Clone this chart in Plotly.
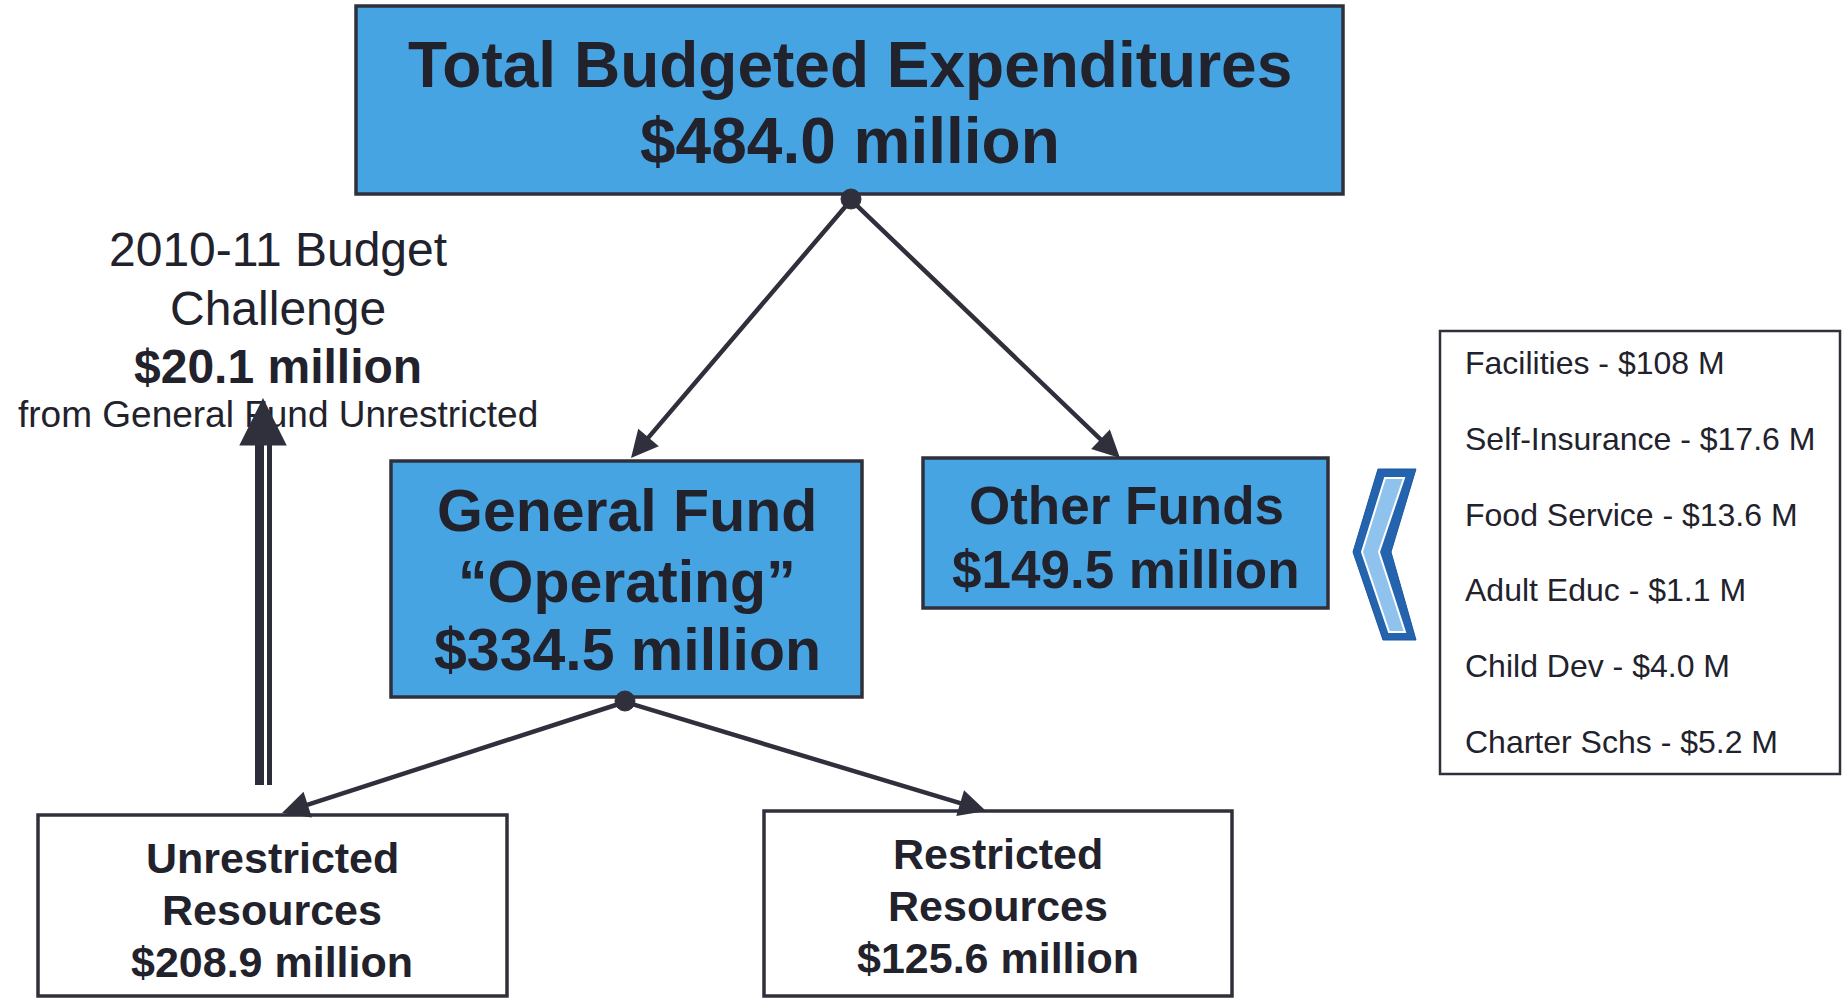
"""
Budget overview diagram: total expenditures split into funds and resources.
Drawn with Plotly shapes + annotations on a pixel-sized canvas.
"""

import plotly.graph_objects as go

# ── Data ───────────────────────────────────────────────────────
TOTAL_LABEL = "Total Budgeted Expenditures"
TOTAL_AMOUNT = 484.0

FUND_LABELS = [["General Fund", "\u201cOperating\u201d"], ["Other Funds"]]
FUND_AMOUNTS = [334.5, 149.5]

RESOURCE_LABELS = [["Unrestricted", "Resources"], ["Restricted", "Resources"]]
RESOURCE_AMOUNTS = [208.9, 125.6]

OTHER_ITEMS = ["Facilities", "Self-Insurance", "Food Service",
               "Adult Educ", "Child Dev", "Charter Schs"]
OTHER_AMOUNTS = ["108", "17.6", "13.6", "1.1", "4.0", "5.2"]

CHALLENGE_LINES = ["2010-11 Budget", "Challenge"]
CHALLENGE_AMOUNT = 20.1
CHALLENGE_SOURCE = "from General Fund Unrestricted"

# ── Theme ──────────────────────────────────────────────────────
W, H = 1843, 998
_FONT = "Liberation Sans, Arial, sans-serif"
_TEXT = "#22222c"
_LINE = "#30303c"
_BLUE = "#47a4e3"

shapes = []
annotations = []


def box(x0, y0, x1, y1, fill, width=3.5):
    shapes.append(dict(type="rect", x0=x0, y0=y0, x1=x1, y1=y1,
                       fillcolor=fill, line=dict(color=_LINE, width=width),
                       layer="below"))


def text(x, y, s, size, bold=True, anchor="center"):
    annotations.append(dict(x=x, y=y, text=f"<b>{s}</b>" if bold else s,
                            showarrow=False, xanchor=anchor, yanchor="middle",
                            font=dict(family=_FONT, size=size, color=_TEXT)))


def arrow(x0, y0, x1, y1, width=4.5, head=2, size=1.2):
    annotations.append(dict(x=x1, y=y1, ax=x0, ay=y0, xref="x", yref="y",
                            axref="x", ayref="y", text="", showarrow=True,
                            arrowhead=head, arrowsize=size, arrowwidth=width,
                            arrowcolor=_LINE, standoff=0))


def dot(x, y, r=10):
    shapes.append(dict(type="circle", x0=x - r, y0=y - r, x1=x + r, y1=y + r,
                       fillcolor=_LINE, line=dict(color=_LINE, width=1)))


# ── Top box ────────────────────────────────────────────────────
box(356, 6, 1343, 194, _BLUE)
text(850, 65, TOTAL_LABEL, 64)
text(850, 141, f"${TOTAL_AMOUNT:.1f} million", 64)

# ── Fund boxes ─────────────────────────────────────────────────
box(391, 461, 862, 697, _BLUE)
text(627, 511, FUND_LABELS[0][0], 59)
text(627, 582, FUND_LABELS[0][1], 59)
text(627, 650, f"${FUND_AMOUNTS[0]:.1f} million", 59)

box(923, 458, 1328, 608, _BLUE)
text(1126, 505, FUND_LABELS[1][0], 53)
text(1126, 569, f"${FUND_AMOUNTS[1]:.1f} million", 53)

# ── Resource boxes ─────────────────────────────────────────────
box(38, 815, 507, 996, "white")
for i, y in enumerate([858, 910]):
    text(272, y, RESOURCE_LABELS[0][i], 43)
text(272, 962, f"${RESOURCE_AMOUNTS[0]:.1f} million", 43)

box(764, 811, 1232, 996, "white")
for i, y in enumerate([854, 906]):
    text(998, y, RESOURCE_LABELS[1][i], 43)
text(998, 958, f"${RESOURCE_AMOUNTS[1]:.1f} million", 43)

# ── Connectors ─────────────────────────────────────────────────
arrow(851, 200, 631, 458)
arrow(851, 200, 1120, 458)
dot(851, 199)

arrow(625, 702, 282, 813)
arrow(625, 702, 986, 811)
dot(625, 701)

# ── Other funds list + chevron ────────────────────────────────
box(1440, 331, 1840, 774, "white", width=2.5)
for i, (item, amt) in enumerate(zip(OTHER_ITEMS, OTHER_AMOUNTS)):
    text(1463, 363 + i * 75.8, f"{item} - ${amt} M", 32, bold=False,
         anchor="left")

shapes.append(dict(
    type="path",
    path="M 1378 469 L 1416 469 L 1391 552 L 1416 640 L 1383 640 L 1353 552 Z",
    fillcolor="#2463ad", line=dict(color="#1d56a0", width=1)))
shapes.append(dict(
    type="path",
    path="M 1385 478 L 1404 478 L 1379 552 L 1405 632 L 1389 632 L 1362 552 Z",
    fillcolor="#8fc3ee", line=dict(color="white", width=2)))

# ── Budget challenge (left) ───────────────────────────────────
text(278, 249, CHALLENGE_LINES[0], 48, bold=False)
text(278, 308, CHALLENGE_LINES[1], 48, bold=False)
text(278, 366, f"${CHALLENGE_AMOUNT:.1f} million", 48)
text(278, 414, CHALLENGE_SOURCE, 37, bold=False)

# double-lined shaft
shapes.append(dict(type="rect", x0=255, y0=440, x1=264, y1=785,
                   fillcolor="#2c2c3a", line=dict(width=0)))
shapes.append(dict(type="rect", x0=267, y0=440, x1=272, y1=785,
                   fillcolor="#2c2c3a", line=dict(width=0)))
# head drawn as an annotation arrow so it sits over the text
arrow(263, 446, 263, 398, width=5, head=2, size=1.9)

fig = go.Figure()
fig.update_layout(
    width=W, height=H,
    margin=dict(l=0, r=0, t=0, b=0),
    paper_bgcolor="white", plot_bgcolor="white",
    xaxis=dict(range=[0, W], visible=False, fixedrange=True),
    yaxis=dict(range=[H, 0], visible=False, fixedrange=True),
    shapes=shapes, annotations=annotations, showlegend=False,
)
# drop the browser's default body margin so the canvas starts at 0,0
fig.write_html("out.html", config={"displayModeBar": False},
               post_script="document.body.style.margin='0';")
